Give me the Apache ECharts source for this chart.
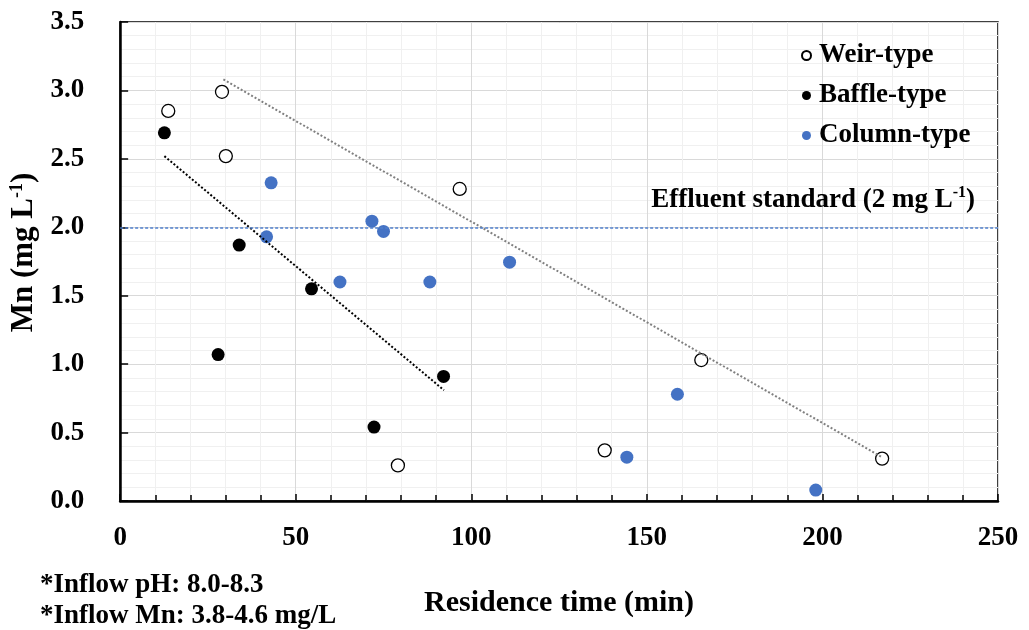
<!DOCTYPE html>
<html><head><meta charset="utf-8">
<script src="https://cdn.jsdelivr.net/npm/echarts@6/dist/echarts.min.js"></script>
<style>html,body{margin:0;padding:0;background:#fff}#c{width:1029px;height:630px}</style>
</head><body><div id="c"></div>
<script>
// Residence time (min), Mn (mg/L)
const weirX = [13.7, 29.0, 30.1, 96.7, 79.1, 165.5, 138.0, 217.0];
const weirY = [2.85, 2.99, 2.52, 2.28, 0.26, 1.03, 0.37, 0.31];
const baffleX = [12.6, 33.9, 54.5, 27.9, 72.3, 92.1];
const baffleY = [2.69, 1.87, 1.55, 1.07, 0.54, 0.91];
const columnX = [43.0, 41.7, 71.7, 75.0, 62.6, 88.2, 110.9, 158.7, 144.3, 198.1];
const columnY = [2.325, 1.93, 2.045, 1.97, 1.60, 1.60, 1.745, 0.78, 0.32, 0.08];
// trend line end points
const weirTrendX = [29.4, 217.0];
const weirTrendY = [3.08, 0.32];
const baffleTrendX = [12.6, 92.2];
const baffleTrendY = [2.52, 0.81];
const effluentStd = 2.0;
const seriesNames = ['Weir-type', 'Baffle-type', 'Column-type'];
const notes = ['*Inflow pH: 8.0-8.3', '*Inflow Mn: 3.8-4.6 mg/L'];

const zip = (a, b) => a.map((v, i) => [v, b[i]]);
const FONT = '"Liberation Serif", "Times New Roman", serif';

const chart = echarts.init(document.getElementById('c'), null, {renderer: 'canvas'});
chart.setOption({
  animation: false,
  textStyle: {fontFamily: FONT},
  grid: {left: 119, right: 31, top: 22, bottom: 129, show: true, borderColor: '#000', borderWidth: 1.5, backgroundColor: 'transparent'},
  legend: {
    data: seriesNames.map(n => ({name: n, icon: 'circle'})),
    orient: 'vertical', left: 796, top: 37, itemGap: 13,
    itemWidth: 9, itemHeight: 9,
    textStyle: {fontFamily: FONT, fontWeight: 'bold', fontSize: 27, color: '#000', padding: [0,0,0,3]}
  },
  xAxis: {
    type: 'value', min: 0, max: 250, interval: 50,
    name: 'Residence time (min)', nameLocation: 'middle', nameGap: 87,
    nameTextStyle: {fontFamily: FONT, fontWeight: 'bold', fontSize: 30, color: '#000'},
    axisLine: {show: true, onZero: false, lineStyle: {color: '#000', width: 2.5}},
    axisTick: {show: true, inside: true, length: 7, lineStyle: {color: '#000', width: 1.5}},
    minorTick: {show: true, splitNumber: 5, length: 6, lineStyle: {color: '#000', width: 1.5}},
    axisLabel: {fontFamily: FONT, fontWeight: 'bold', fontSize: 27, color: '#000', margin: 24},
    splitLine: {show: true, lineStyle: {color: '#d9d9d9', width: 1}},
    minorSplitLine: {show: true, lineStyle: {color: '#f0f0f0', width: 1}}
  },
  yAxis: {
    type: 'value', min: 0, max: 3.5, interval: 0.5,
    name: '{b|Mn (mg L}{s|-1}{b|)}', nameLocation: 'middle', nameGap: 76, nameRotate: 90,
    nameTextStyle: {padding: [0, 0, 0, 18], rich: {
      b: {fontFamily: FONT, fontWeight: 'bold', fontSize: 31, color: '#000', lineHeight: 32},
      s: {fontFamily: FONT, fontWeight: 'bold', fontSize: 18, color: '#000', verticalAlign: 'top', lineHeight: 32, padding: [0,0,12,0]}
    }},
    axisLine: {show: true, onZero: false, lineStyle: {color: '#000', width: 2.5}},
    axisTick: {show: true, inside: true, length: 8, lineStyle: {color: '#000', width: 1.5}},
    axisLabel: {fontFamily: FONT, fontWeight: 'bold', fontSize: 27, color: '#000', margin: 36, formatter: v => v.toFixed(1)},
    splitLine: {show: true, lineStyle: {color: '#d9d9d9', width: 1}},
    minorTick: {show: false, splitNumber: 5},
    minorSplitLine: {show: true, lineStyle: {color: '#f0f0f0', width: 1}}
  },
  series: [
    {name: 'effluent', type: 'line', data: [], silent: true,
     markLine: {symbol: 'none', silent: true,
       lineStyle: {color: '#4F7FCC', type: [3, 2], width: 1.5, opacity: 1},
       label: {show: true, position: 'insideEndTop', distance: [23, 12],
         formatter: '{b|Effluent standard (2 mg L}{s|-1}{b|)}',
         rich: {
           b: {fontFamily: FONT, fontWeight: 'bold', fontSize: 27, color: '#000', lineHeight: 30},
           s: {fontFamily: FONT, fontWeight: 'bold', fontSize: 16, color: '#000', verticalAlign: 'top', lineHeight: 30, padding: [0,0,10,0]}
         }},
       data: [{yAxis: effluentStd}]}},
    {name: 'weirTrend', type: 'line', data: zip(weirTrendX, weirTrendY), symbol: 'none', silent: true,
     lineStyle: {color: '#808080', width: 2, type: [2, 2]}},
    {name: 'baffleTrend', type: 'line', data: zip(baffleTrendX, baffleTrendY), symbol: 'none', silent: true,
     lineStyle: {color: '#000', width: 2, type: [2, 2]}},
    {name: seriesNames[0], type: 'scatter', data: zip(weirX, weirY), symbolSize: 13,
     itemStyle: {color: '#fff', borderColor: '#000', borderWidth: 1.3, opacity: 1}},
    {name: seriesNames[1], type: 'scatter', data: zip(baffleX, baffleY), symbolSize: 13,
     itemStyle: {color: '#000', opacity: 1}},
    {name: seriesNames[2], type: 'scatter', data: zip(columnX, columnY), symbolSize: 13,
     itemStyle: {color: '#4472C4', opacity: 1}}
  ],
  graphic: [
    {type: 'text', left: 40, top: 572, style: {text: notes[0], font: 'bold 27px ' + FONT, fill: '#000'}},
    {type: 'text', left: 40, top: 603, style: {text: notes[1], font: 'bold 27px ' + FONT, fill: '#000'}}
  ]
});
</script></body></html>
